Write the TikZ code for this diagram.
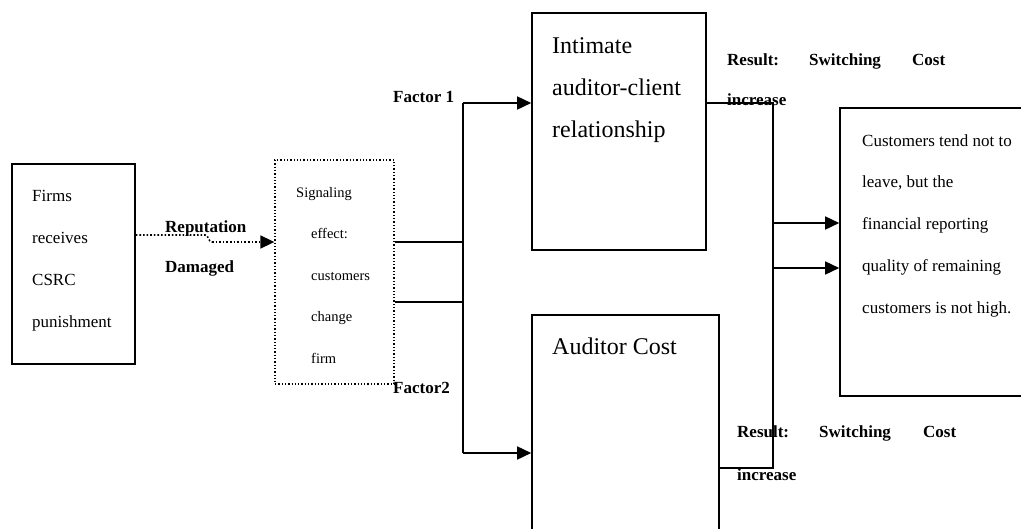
\documentclass[tikz,border=0pt]{standalone}
\usepackage{fontspec}
\setmainfont{Liberation Serif}
\usepackage{tikz}
\usetikzlibrary{arrows.meta}
\tikzset{%
    box/.style={draw, line width=1.6pt, rectangle, inner sep=0pt},
    dotbox/.style={draw, dotted, line width=1.3pt, rectangle, inner sep=0pt},
    link/.style={line width=1.6pt},
    arrow/.style={line width=1.6pt, -{Triangle[length=14pt,width=13pt]}},
    txt/.style={anchor=base west, inner sep=0pt, align=left, font=\fontsize{17}{41.7}\selectfont},
    small/.style={anchor=base west, inner sep=0pt, align=left, font=\fontsize{14.5}{41.5}\selectfont},
    big/.style={anchor=base west, inner sep=0pt, align=left, font=\fontsize{24}{42}\selectfont},
    lbl/.style={anchor=base west, inner sep=0pt, font=\fontsize{17}{20}\selectfont\bfseries}
}

\begin{document}
\begin{tikzpicture}[x=1pt, y=-1pt]
    \useasboundingbox (0,0) rectangle (1021,528);
    \clip (0,0) rectangle (1021,528);
    \node[box, minimum width=123pt, minimum height=200pt] (firms) at (73.5,264) {};
    \node[dotbox, minimum width=119pt, minimum height=224pt] (sig) at (334.5,272) {};
    \node[box, minimum width=174pt, minimum height=237pt] (intim) at (619,131.5) {};
    \node[box, minimum width=187pt, minimum height=230pt] (cost) at (625.5,430) {};
    \node[box, minimum width=195pt, minimum height=288pt] (res) at (937.5,252) {};
    \node[txt] (firmstxt) at (32,327) {Firms\\receives\\CSRC\\punishment};
    \node[small] (sigtxt) at (296,197) {Signaling};
    \node[small] (sigtxt2) at (311,363) {effect:\\customers\\change\\firm};
    \node[big] (intimtxt) at (552,137) {Intimate\\auditor-client\\relationship};
    \node[big] (costtxt) at (552,354) {Auditor Cost};
    \node[txt] (restxt) at (862,313) {Customers tend not to\\leave, but the\\financial reporting\\quality of remaining\\customers is not high.};
    \coordinate (bend) at (205,235);
    \coordinate (fk1) at (463,103);
    \coordinate (fk2) at (463,453);
    \coordinate (jn1) at (773,103);
    \coordinate (jn2) at (773,468);
    \draw[link, dotted] (firms.east |- bend) -- (bend) to[out=0,in=180] (212,242) coordinate (bend2);
    \draw[arrow, dotted] (bend2) -- (sig.west |- bend2);
    \draw[link] (sig.east |- 0,242) -- (fk1 |- 0,242);
    \draw[link] (sig.east |- 0,302) -- (fk1 |- 0,302);
    \draw[link] (fk1) -- (fk2);
    \draw[arrow] (fk1) -- (intim.west |- fk1);
    \draw[arrow] (fk2) -- (cost.west |- fk2);
    \draw[link] (intim.east |- jn1) -- (jn1) -- (jn2) -- (cost.east |- jn2);
    \foreach \y in {223,268}
    {
    \draw[arrow] (jn1 |- 0,\y) -- (res.west |- 0,\y);
    }
    \node[lbl] (rep) at (165,232) {Reputation};
    \node[lbl] (dam) at (165,272) {Damaged};
    \node[lbl] (fac1) at (393,102) {Factor 1};
    \node[lbl] (fac2) at (393,393) {Factor2};
    \node[lbl] (resa) at (727,65) {Result:};
    \node[lbl] (swa) at (809,65) {Switching};
    \node[lbl] (cosa) at (912,65) {Cost};
    \node[lbl] (inca) at (727,105) {increase};
    \node[lbl] (resb) at (737,437) {Result:};
    \node[lbl] (swb) at (819,437) {Switching};
    \node[lbl] (cosb) at (923,437) {Cost};
    \node[lbl] (incb) at (737,480) {increase};
\end{tikzpicture}
\end{document}
